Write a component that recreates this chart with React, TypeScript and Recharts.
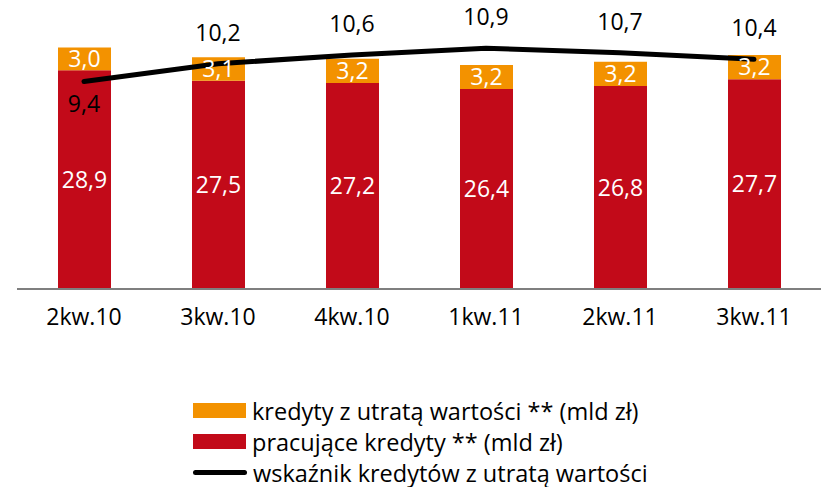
import { Bar, ComposedChart, LabelList, Line, XAxis, YAxis } from "recharts";

const quarters = ["2kw.10", "3kw.10", "4kw.10", "1kw.11", "2kw.11", "3kw.11"];
const performing = [28.9, 27.5, 27.2, 26.4, 26.8, 27.7];
const impaired = [3.0, 3.1, 3.2, 3.2, 3.2, 3.2];
const ratio = [9.4, 10.2, 10.6, 10.9, 10.7, 10.4];

const RED = "#c20a19";
const ORANGE = "#f39200";
const FONT = "'Open Sans', sans-serif";

const data = quarters.map((q, i) => ({
  q,
  performing: performing[i],
  impaired: impaired[i],
  ratio: ratio[i],
}));

const fmt = (v: any) => Number(v).toFixed(1).replace(".", ",");

function RatioLabel(props: any) {
  const { x, y, value, index } = props;
  const below = index === 0;
  return (
    <text
      x={x}
      y={below ? y + 22 : y - 32}
      textAnchor="middle"
      dominantBaseline="central"
      fill="#000"
      fontSize={23}
      fontFamily={FONT}
    >
      {fmt(value)}
    </text>
  );
}

const legendItems = [
  { label: "kredyty z utratą wartości ** (mld zł)", color: ORANGE, kind: "box" },
  { label: "pracujące kredyty ** (mld zł)", color: RED, kind: "box" },
  { label: "wskaźnik kredytów z utratą wartości", color: "#000", kind: "line" },
];

export default function App() {
  return (
    <div style={{ position: "relative", width: 821, height: 487, background: "#fff" }}>
      <style>{`body{margin:0}`}</style>
      <ComposedChart
        width={821}
        height={487}
        data={data}
        margin={{ top: 24, right: 0, left: 17, bottom: 168 }}
      >
        <XAxis
          dataKey="q"
          axisLine={{ stroke: "#7f7f7f", strokeWidth: 2 }}
          tickLine={false}
          height={30}
          tickMargin={14}
          tick={{ fill: "#000", fontSize: 23, fontFamily: FONT }}
        />
        <YAxis yAxisId="l" hide domain={[0, 35]} />
        <YAxis yAxisId="r" hide orientation="right" domain={[0, 12]} />
        <Bar yAxisId="l" dataKey="performing" stackId="s" fill={RED} barSize={53} isAnimationActive={false}>
          <LabelList
            dataKey="performing"
            position="center"
            formatter={fmt}
            fill="#fff"
            fontSize={23}
            fontFamily={FONT}
          />
        </Bar>
        <Bar yAxisId="l" dataKey="impaired" stackId="s" fill={ORANGE} barSize={53} isAnimationActive={false}>
          <LabelList
            dataKey="impaired"
            position="center"
            formatter={fmt}
            fill="#fff"
            fontSize={23}
            fontFamily={FONT}
          />
        </Bar>
        <Line
          yAxisId="r"
          dataKey="ratio"
          type="linear"
          stroke="#000"
          strokeWidth={5}
          strokeLinecap="round"
          dot={false}
          activeDot={false}
          isAnimationActive={false}
        >
          <LabelList dataKey="ratio" content={RatioLabel} />
        </Line>
      </ComposedChart>
      <div style={{ position: "absolute", left: 193, top: 395, fontFamily: FONT, fontSize: 23.5 }}>
        {legendItems.map((it) => (
          <div key={it.label} style={{ display: "flex", alignItems: "center", height: 31 }}>
            {it.kind === "box" ? (
              <span style={{ width: 53, height: 15, background: it.color, display: "inline-block" }} />
            ) : (
              <span style={{ width: 54, height: 5, borderRadius: 3, background: it.color, display: "inline-block" }} />
            )}
            <span style={{ marginLeft: 6, color: "#000", whiteSpace: "nowrap" }}>{it.label}</span>
          </div>
        ))}
      </div>
    </div>
  );
}
